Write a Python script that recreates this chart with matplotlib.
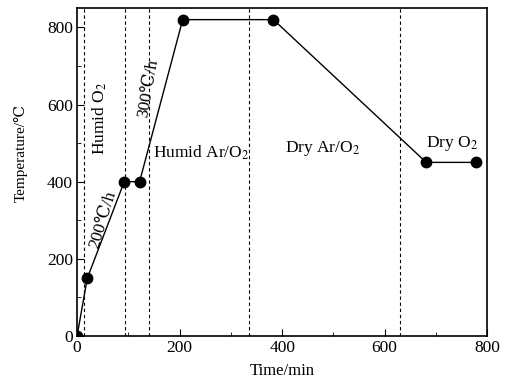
import matplotlib.pyplot as plt
from matplotlib.ticker import MultipleLocator

plt.rcParams['font.family'] = ['Liberation Serif', 'DejaVu Serif', 'DejaVu Sans']
plt.rcParams['mathtext.fontset'] = 'stix'

# heating schedule
time_min = [0, 20, 92, 122, 206, 383, 681, 779]
temp_c = [0, 150, 400, 400, 820, 820, 450, 450]

# gas switch times
switch_times = [14, 93, 141, 336, 630]

# stage labels: text, x, y, rotation
stage_labels = [
    ('Humid O$_2$', 45, 565, 90),
    ('300℃/h', 140, 642, 80),
    ('200℃/h', 51, 303, 73),
    ('Humid Ar/O$_2$', 243, 476, 0),
    ('Dry Ar/O$_2$', 478, 487, 0),
    ('Dry O$_2$', 732, 500, 0),
]

fig = plt.figure(figsize=(5.07, 3.84), dpi=100)
ax = fig.add_axes([0.152, 0.125, 0.809, 0.854])

for t in switch_times:
    ax.axvline(t, color='black', linestyle=(0, (3, 2.5)), linewidth=0.8)

ax.plot(time_min, temp_c, color='black', linewidth=1.0, marker='o',
        markersize=7.5)

for text, x, y, rot in stage_labels:
    ax.text(x, y, text, rotation=rot, ha='center', va='center', fontsize=12.5)

ax.set_xlim(0, 800)
ax.set_ylim(0, 850)
ax.xaxis.set_major_locator(MultipleLocator(200))
ax.xaxis.set_minor_locator(MultipleLocator(100))
ax.yaxis.set_major_locator(MultipleLocator(200))
ax.yaxis.set_minor_locator(MultipleLocator(100))
ax.tick_params(which='both', direction='in', top=False, right=False,
               labelsize=12.5)
ax.tick_params(which='major', length=5, pad=3)
ax.tick_params(which='minor', length=3)
for s in ax.spines.values():
    s.set_linewidth(1.2)

ax.set_xlabel('Time/min', fontsize=12, labelpad=5)
ax.set_ylabel('Temperature/℃', fontsize=11)
ax.yaxis.set_label_coords(-0.12, 0.558)

fig.savefig('out.png', dpi=100)
